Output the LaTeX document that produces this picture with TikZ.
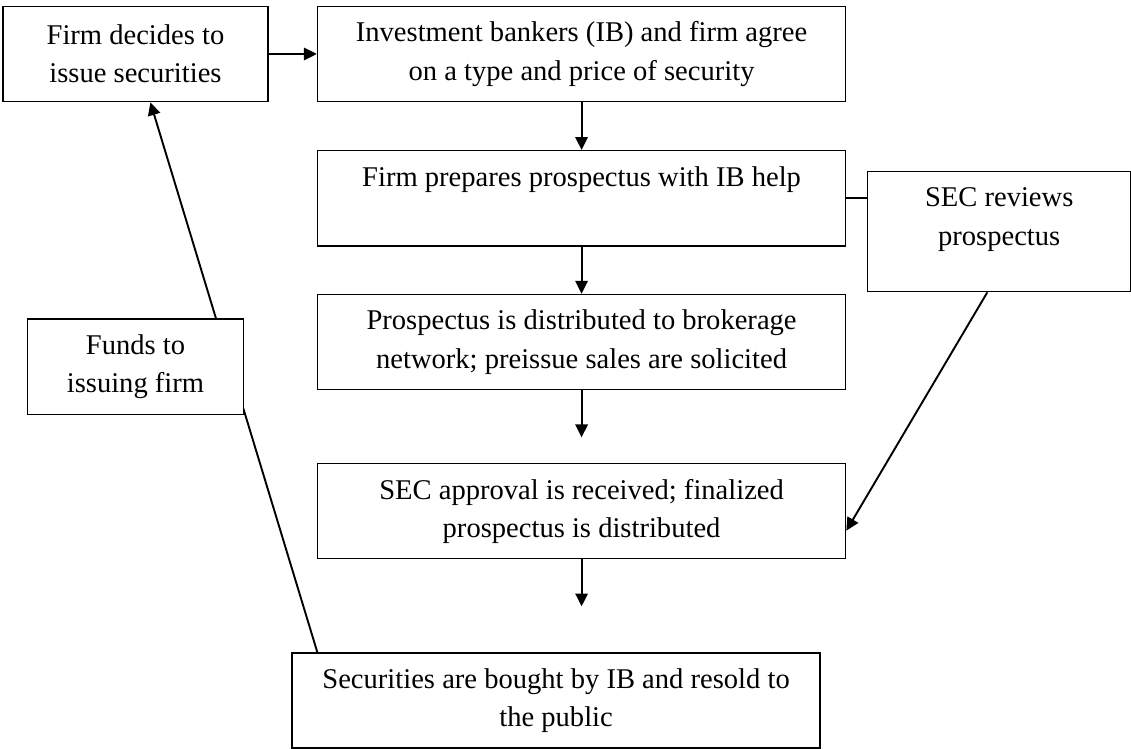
\documentclass[tikz,border=0pt]{standalone}
\usepackage{fontspec}
\setmainfont{Liberation Serif}
\usetikzlibrary{positioning,arrows.meta,calc}

\begin{document}
\begin{tikzpicture}[
  x=0.42pt, y=-0.42pt,
  node distance=20pt,
  block/.style={draw, line width=0.6pt, fill=white, minimum width=221.8pt, minimum height=40pt, inner sep=2pt, align=center, font=\fontsize{12}{16}\selectfont},
  arrow/.style={-{Triangle[length=5.4pt,width=5.2pt]}, line width=0.8pt},
  link/.style={line width=0.8pt}
]
\useasboundingbox (0,0) rectangle (1131,749);
\node[block, minimum width=111.3pt] (firm) at (135.5,54) {Firm decides to\\issue securities};
\node[block, right=20.2pt of firm] (agree) {Investment bankers (IB) and firm agree\\on a type and price of security};
\node[block, below=20pt of agree] (prep) {Firm prepares prospectus with IB help\\\vphantom{gy}};
\node[block, below=19.8pt of prep] (distr) {Prospectus is distributed to brokerage\\network; preissue sales are solicited};
\node[block, below=30.4pt of distr] (approv) {SEC approval is received; finalized\\prospectus is distributed};
\node[block, below=38.9pt of approv, xshift=-10.7pt] (bought) {Securities are bought by IB and resold to\\the public};
\node[block, minimum width=110.6pt, minimum height=50.4pt, anchor=north west] (sec) at ($(prep.north east)+(8.6pt,-8.8pt)$) {SEC reviews\\prospectus\\[-5.9pt]\vphantom{p}};
\coordinate[below=19.7pt of distr] (distrend);
\coordinate[below=19.7pt of approv] (approvend);

\draw[arrow] (firm) -- (agree);
\draw[arrow] (agree) -- (prep);
\draw[arrow] (prep) -- (distr);
\draw[arrow] (distr) -- (distrend);
\draw[arrow] (approv) -- (approvend);
\draw[link] (prep.east) -- (prep.east -| sec.west);
\draw[arrow] ($(sec.south)+(-5pt,0)$) -- ($(approv.east)+(0,-8.2pt)$);
\draw[arrow] ($(bought.north west)+(10.9pt,0)$) -- ($(firm.south west)+(62.2pt,0)$);

% drawn last so that it sits over the return line
\node[block, minimum width=90.7pt, below=90.7pt of firm] (funds) {Funds to\\issuing firm};
\end{tikzpicture}
\end{document}
